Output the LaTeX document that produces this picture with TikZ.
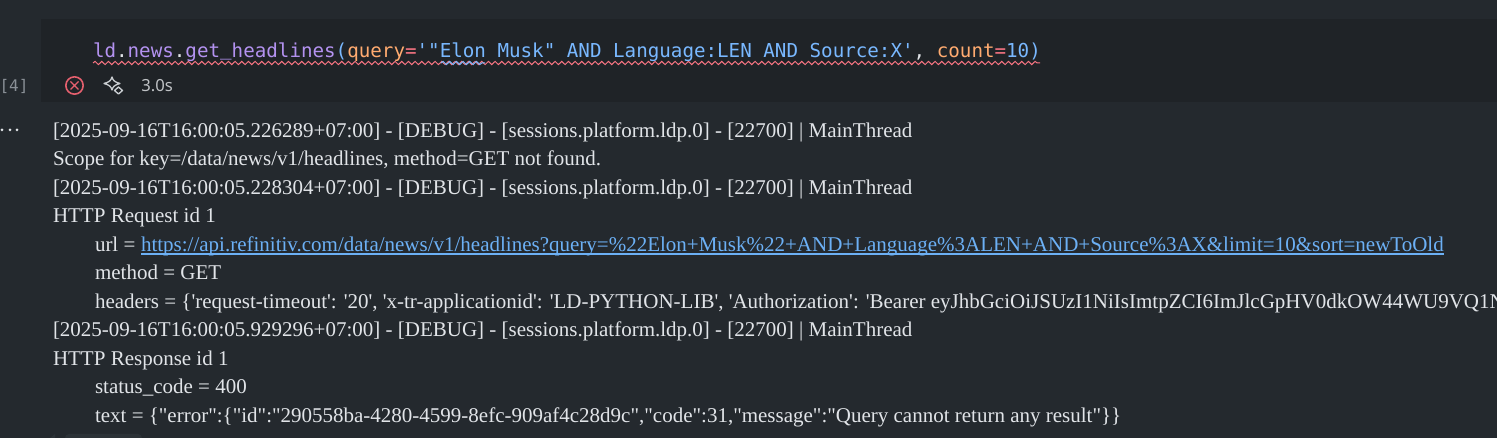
\documentclass[tikz,border=0pt]{standalone}
\usepackage{fontspec}
\usetikzlibrary{decorations.pathmorphing,calc,backgrounds}
\newfontfamily\logfont{Liberation Serif}
\newfontfamily\codefont{DejaVu Sans Mono}
\newfontfamily\uifont{Noto Sans}
\definecolor{pagebg}{HTML}{24292E}
\definecolor{cellbg}{HTML}{1F2327}
\definecolor{logtext}{HTML}{E1E4E8}
\definecolor{linkc}{HTML}{6CB0F5}
\definecolor{cpurple}{HTML}{B392F0}
\definecolor{corange}{HTML}{FFAB70}
\definecolor{cred}{HTML}{F97583}
\definecolor{cblue}{HTML}{79B8FF}
\definecolor{cwhite}{HTML}{E1E4E8}
\definecolor{errc}{HTML}{E5606E}
\definecolor{grayc}{HTML}{8A9097}
\definecolor{iconc}{HTML}{C8CCD0}
\definecolor{scrollc}{HTML}{2C3237}
\tikzset{
  logline/.style={anchor=base west,inner sep=0pt,outer sep=0pt,text=logtext,font=\logfont\fontsize{15.75pt}{18pt}\selectfont},
  codeline/.style={anchor=base west,inner sep=0pt,outer sep=0pt,font=\codefont\fontsize{14.4pt}{18pt}\selectfont},
  wavy/.style={draw=cred,line width=0.75pt,decorate,decoration={snake,amplitude=1.2pt,segment length=5pt}},
}
\begin{document}
\begin{tikzpicture}[x=0.75pt,y=-0.75pt]
\useasboundingbox (0,0) rectangle (1497,438);
\clip (0,0) rectangle (1497,438);
\node[codeline] (code) at (93,58) {\textcolor{cpurple}{ld}\textcolor{cwhite}{.}\textcolor{cpurple}{news}\textcolor{cwhite}{.}\textcolor{cpurple}{get\raisebox{1.6pt}{\_}headlines}\textcolor{cblue}{(}\textcolor{corange}{query}\textcolor{cred}{=}\textcolor{cblue}{'"Elon Musk" AND Language:LEN AND Source:X'}\textcolor{cwhite}{,} \textcolor{corange}{count}\textcolor{cred}{=}\textcolor{cblue}{10)}};
\begin{scope}[on background layer]
\fill[pagebg] (0,0) rectangle (1497,438);
\fill[cellbg] (41,19) rectangle (1497,102);
\draw[wavy] (code.base west) ++(0,5) -- ++(947,0);
\draw[draw=cblue,line width=0.75pt,decorate,decoration={snake,amplitude=1.2pt,segment length=5pt}] (441,63) -- (485,63);
\end{scope}
\node[anchor=base,inner sep=0pt,text=grayc,font=\codefont\fontsize{12pt}{14pt}\selectfont] (cnt) at (14,92) {[4]};
\node[circle,draw=errc,line width=1.2pt,minimum size=13pt,inner sep=0pt] (err) at (74.5,85.5) {};
\draw[errc,line width=1pt] ($(err)+(-4,-4)$) -- ($(err)+(4,4)$) ($(err)+(4,-4)$) -- ($(err)+(-4,4)$);
\draw[iconc,line width=1pt,line join=round] (112,77) .. controls (113,80.5) and (114.5,82) .. (120,83.5) .. controls (114.5,85) and (113,86.5) .. (112,90) .. controls (111,86.5) and (109.5,85) .. (104,83.5) .. controls (109.5,82) and (111,80.5) .. (112,77) -- cycle;
\fill[cellbg,draw=iconc,line width=1pt,line join=round] (118.5,87) -- (122.5,90.5) -- (118.5,94) -- (114.5,90.5) -- cycle;
\node[anchor=base west,inner sep=0pt,text=logtext!85!black,font=\uifont\fontsize{12.5pt}{14pt}\selectfont] (time) at (141,92) {3.0s};
\foreach \x in {2,10,17} \fill[logtext] (\x,130) circle[radius=1.5];
\node[logline] (l1) at (53,137.5) {[2025-09-16T16:00:05.226289+07:00] - [DEBUG] - [sessions.platform.ldp.0] - [22700] | MainThread};
\node[logline] (l2) at (53,166) {Scope for key=/data/news/v1/headlines, method=GET not found.};
\node[logline] (l3) at (53,194.5) {[2025-09-16T16:00:05.228304+07:00] - [DEBUG] - [sessions.platform.ldp.0] - [22700] | MainThread};
\node[logline] (l4) at (53,223) {HTTP Request id 1};
\node[logline] (l5) at (95,251.5) {url = };
\node[logline,text=linkc] (url) at (141,251.5) {https://api.refinitiv.com/data/news/v1/headlines?query=\%22Elon+Musk\%22+AND+Language\%3ALEN+AND+Source\%3AX\&limit=10\&sort=newToOld};
\draw[linkc,line width=1.1pt] ($(url.base west)+(0,2.5)$) -- ($(url.base east)+(0,2.5)$);
\node[logline] (l6) at (95,280) {method = GET};
\node[logline] (l7) at (95,308.5) {headers = \{'request-timeout': '20', 'x-tr-applicationid': 'LD-PYTHON-LIB', 'Authorization': 'Bearer eyJhbGciOiJSUzI1NiIsImtpZCI6ImJlcGpHV0dkOW44WU9VQ1N};
\node[logline] (l8) at (53,337) {[2025-09-16T16:00:05.929296+07:00] - [DEBUG] - [sessions.platform.ldp.0] - [22700] | MainThread};
\node[logline] (l9) at (53,365.5) {HTTP Response id 1};
\node[logline] (l10) at (95,394) {status\_code = 400};
\node[logline] (l11) at (95,422.5) {text = \{"error":\{"id":"290558ba-4280-4599-8efc-909af4c28d9c","code":31,"message":"Query cannot return any result"\}\}};
\fill[scrollc,rounded corners=3pt] (65,434) rectangle (142,445);
\fill[scrollc] (50,438) -- (55,434) -- (55,438) -- cycle;
\end{tikzpicture}
\end{document}
